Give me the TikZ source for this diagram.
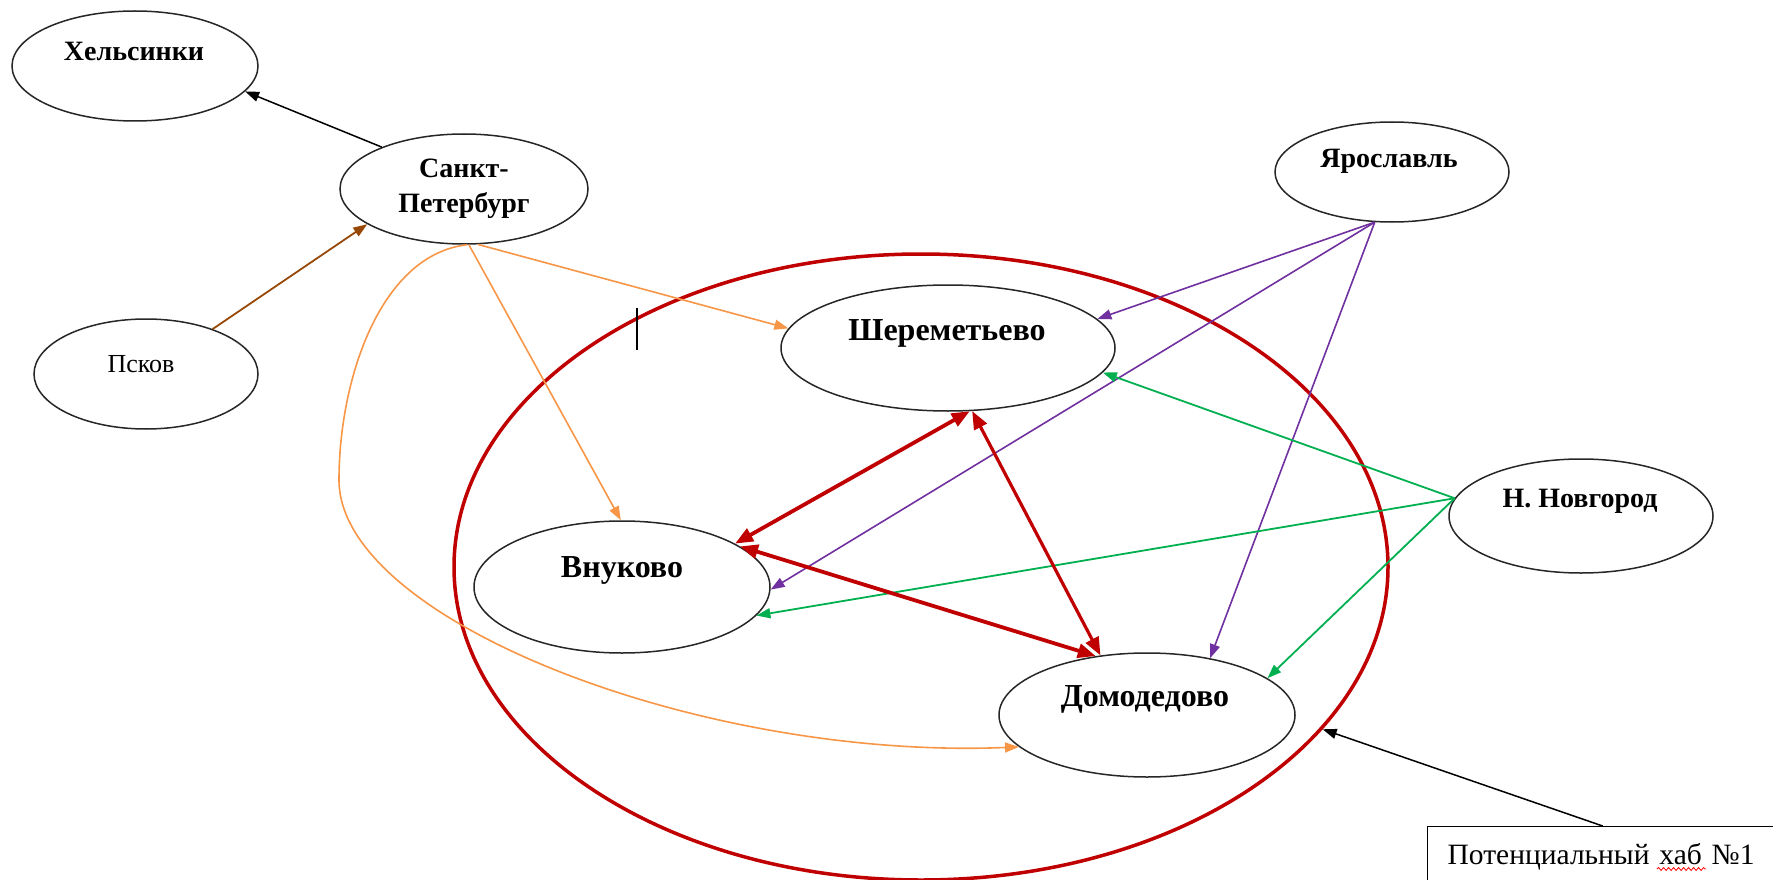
\documentclass[tikz,border=0pt]{standalone}
\usepackage{fontspec}
\setmainfont{Liberation Serif}
\usetikzlibrary{arrows.meta,shapes.geometric,decorations.pathmorphing}

\definecolor{hubred}{RGB}{192,0,0}
\definecolor{spbline}{RGB}{247,150,70}
\definecolor{yarline}{RGB}{112,48,160}
\definecolor{novline}{RGB}{0,176,80}
\definecolor{pskline}{RGB}{152,72,6}

\begin{document}
\begin{tikzpicture}[x=1pt,y=-1pt,
 town/.style={draw=black!85,line width=1.5pt,ellipse,inner sep=0pt},
 big/.style={font=\bfseries\fontsize{32}{36}\selectfont},
 small/.style={font=\bfseries\fontsize{28}{32}\selectfont},
 tip/.style={-{Triangle[length=14pt,width=10pt]}},
 twotip/.style={{Triangle[length=18pt,width=14pt]}-{Triangle[length=18pt,width=14pt]}}]

\useasboundingbox (0,0) rectangle (1773,880);

% hub
\node[draw=hubred,line width=3.5pt,ellipse,minimum width=934pt,minimum height=626pt] (hub) at (921,567) {};

\node[town,minimum width=246pt,minimum height=110pt] (hel) at (135,66) {};
\node[town,minimum width=248pt,minimum height=110pt] (spb) at (464,189) {};
\node[town,minimum width=224pt,minimum height=110pt] (psk) at (146,374) {};
\node[town,minimum width=234pt,minimum height=100pt] (yar) at (1392,172) {};
\node[town,minimum width=264pt,minimum height=114pt] (nov) at (1581,516) {};
\node[town,minimum width=334pt,minimum height=126pt] (sher) at (948,348) {};
\node[town,minimum width=296pt,minimum height=132pt] (vnu) at (622,587) {};
\node[town,minimum width=296pt,minimum height=124pt] (dom) at (1147,715) {};

\node[small] (helname) at (134,51) {Хельсинки};
\node[small,align=center,font=\bfseries\fontsize{28}{35}\selectfont] (spbname) at (464,189) {Санкт-\\Петербург};
\node[font=\fontsize{26}{30}\selectfont] (pskname) at (141,364) {Псков};
\node[small] (yarname) at (1389,161) {Ярославль};
\node[small] (novname) at (1580,501) {Н. Новгород};
\node[big] (shername) at (947,333) {Шереметьево};
\node[big] (vnuname) at (622,570) {Внуково};
\node[big] (domname) at (1145,699) {Домодедово};

\node[draw,line width=1.3pt,anchor=north west,minimum height=60pt,
 text width=330pt,inner xsep=20pt,align=left,
 font=\fontsize{29.5}{33}\selectfont] (note) at (1427,826) {Потенциальный хаб №1};
\draw[red,line width=0.8pt,decorate,decoration={snake,amplitude=1.5pt,segment length=5pt}]
 (1657,869) -- (1706,869);

% cursor
\draw[line width=2.5pt] (637,308) -- (637,350);

\draw[tip,line width=1.5pt] (spb.153) -- (hel.-13);
\draw[tip,pskline,line width=1.8pt] (psk.34) -- (spb.200);

\draw[tip,spbline,line width=1.6pt] (spb.-76) -- (sher.173);
\draw[tip,spbline,line width=1.6pt] (spb.-85) -- (vnu.91);
\draw[tip,spbline,line width=1.6pt] (spb.-87) .. controls (380,255) and (339,380) .. (339,480)
 .. controls (339,620) and (700,760) .. (dom.194);

\draw[tip,yarline,line width=1.6pt] (yar.-109) -- (sher.11);
\draw[tip,yarline,line width=1.6pt] (yar.-109) -- (vnu.-1);
\draw[tip,yarline,line width=1.6pt] (yar.-109) -- (dom.42);

\draw[tip,novline,line width=1.8pt] (nov.172) -- (sher.-9);
\draw[tip,novline,line width=1.8pt] (nov.172) -- (vnu.-12);
\draw[tip,novline,line width=1.8pt] (nov.172) -- (dom.17);

\draw[twotip,hubred,line width=3.8pt] (vnu.21) -- (sher.-71);
\draw[twotip,hubred,line width=3.2pt] (sher.-69) -- (dom.128);
\draw[twotip,hubred,line width=3.8pt] (vnu.19) -- (dom.131);

\draw[tip,line width=1.5pt] ([xshift=-10pt]note.north) -- (hub.-22);

\end{tikzpicture}
\end{document}
